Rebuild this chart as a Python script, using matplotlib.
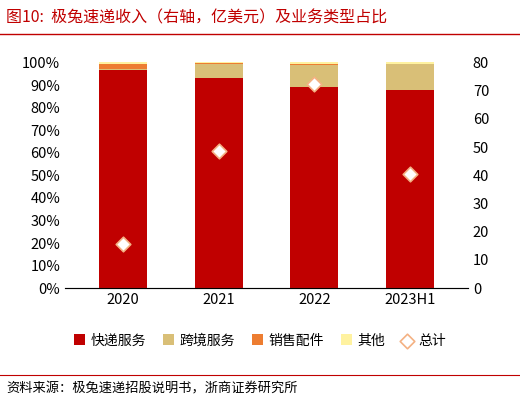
import matplotlib
matplotlib.use('Agg')
import matplotlib.pyplot as plt
import numpy as np
plt.rcParams['font.family'] = ['Noto Sans CJK SC', 'DejaVu Sans']

categories = ['2020', '2021', '2022', '2023H1']
express = [96.5, 93.0, 89.0, 88.0]
cross = [0.6, 6.3, 9.9, 11.5]
parts = [2.2, 0.3, 0.3, 0.0]
other = [0.7, 0.4, 0.8, 0.5]
total = [15.5, 48.5, 72.5, 40.5]

fig = plt.figure(figsize=(5.2, 4.03), dpi=100)
ax = fig.add_axes([0.125, 0.285, 0.775, 0.56])
x = np.arange(len(categories))
w = 0.5
b = np.zeros(4)
for vals, c, lab in [(express, '#C00000', '快递服务'), (cross, '#D9BF77', '跨境服务'),
                     (parts, '#ED7D31', '销售配件'), (other, '#FFF2A0', '其他')]:
    ax.bar(x, vals, w, bottom=b, color=c, label=lab)
    b += np.array(vals)
ax.set_ylim(0, 100)
ax.set_yticks(range(0, 101, 10))
ax.set_yticklabels([f'{v}%' for v in range(0, 101, 10)])
ax.set_xticks(x)
ax.set_xticklabels(categories)
ax.set_xlim(-0.6, 3.6)
ax2 = ax.twinx()
ax2.scatter(x, total, marker='D', s=55, facecolor='white', edgecolor='#F4B183', linewidths=1.2, label='总计', zorder=5)
ax2.set_ylim(0, 80)
ax2.set_yticks(range(0, 81, 10))
for a in (ax, ax2):
    for s in ['top', 'left', 'right']:
        a.spines[s].set_visible(False)
    a.tick_params(length=0, labelsize=10.5)
ax.spines['bottom'].set_color('#888888')
h1, l1 = ax.get_legend_handles_labels()
h2, l2 = ax2.get_legend_handles_labels()
fig.legend(h1 + h2, l1 + l2, loc='center', bbox_to_anchor=(0.5, 0.155), ncol=5, frameon=False,
           fontsize=10, handlelength=0.8, handleheight=0.8, columnspacing=1.2, handletextpad=0.4)
fig.text(0.012, 0.955, '图10:  极兔速递收入（右轴，亿美元）及业务类型占比', color='#C00000', fontsize=11.5, va='center')
fig.add_artist(plt.Line2D([0.0, 1.0], [0.915, 0.915], color='#C00000', lw=1))
fig.add_artist(plt.Line2D([0.0, 1.0], [0.07, 0.07], color='#C00000', lw=0.8))
fig.text(0.012, 0.035, '资料来源：极兔速递招股说明书，浙商证券研究所', fontsize=9.5, va='center')
fig.savefig('out.png')
